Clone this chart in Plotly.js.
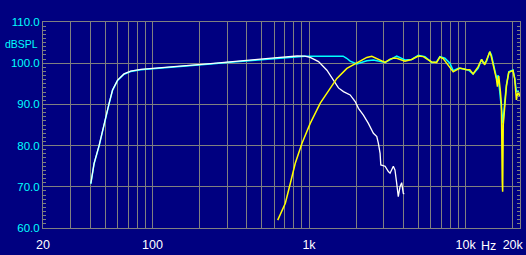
<!DOCTYPE html>
<html>
<head>
<meta charset="utf-8">
<script src="https://cdn.plot.ly/plotly-3.0.1.min.js"></script>
<style>html,body{margin:0;padding:0;background:#000080;}#chart{width:526px;height:255px;}</style>
</head>
<body>
<div id="chart"></div>
<script>
// Woofer response (white)
const wooferFreq = [40.4,42.4,45.7,49.1,52.9,55.6,59.9,65.8,72.6,84.2,107.6,130,150,235,300,468,600,840,940,1018,1150,1301,1400,1542,1660,1832,1972,2069,2226,2394,2578,2710,2774,2845,2874,3060,3213,3294,3456,3540,3632,3717,3812,3908,4000,4060];
const wooferDb   = [70.8,75.7,80.1,85.4,90.3,93.5,95.9,97.4,98.1,98.5,98.9,99.1,99.3,99.9,100.3,100.9,101.3,101.75,101.7,101.4,100.4,98.3,96.3,94.0,93.1,92.3,90.7,89.05,87.4,85.4,83.0,82.2,80.55,78.1,75.3,75.0,73.7,73.3,75.0,74.1,70.85,67.6,70.0,71.0,68.4,68.3];

// Tweeter response (yellow)
const tweeterFreq = [631,706,760,817,902,1018,1180,1366,1507,1746,2020,2340,2518,2710,3060,3294,3456,3632,4102,4528,4988,5368,5780,6070,6532,6854,7194,7740,8336,9190,10140,10640,11170,12020,12640,13260,13930,14280,14620,15200,15740,15980,16290,16700,16940,17150,17250,17400,17780,18240,18880,20080,20600,21120,21620,22180];
const tweeterDb   = [61.9,66.0,70.85,75.7,80.55,85.4,90.3,93.9,96.3,98.75,100.1,101.4,101.7,101.2,100.2,101.0,101.2,101.2,100.5,100.9,101.75,101.6,100.8,100.3,100.2,101.5,101.1,99.6,97.9,98.8,98.4,98.4,97.4,99.1,100.9,99.6,101.9,102.8,101.5,99.0,96.2,94.3,96.9,93.0,89.9,71.2,68.8,85.0,90.4,94.5,97.8,98.2,96.2,91.1,93.1,92.0];

// Summed response (cyan)
const sumFreq = [40.4,42.4,45.7,49.1,52.9,55.6,59.9,65.8,72.6,84.2,107.6,130,150,235,300,468,600,840,940,1200,1500,1652,1740,1832,2020,2226,2340,2578,3060,3632,4102,4528,4988,5500,6070,6532,6854,7378,7940,8336,8970,9892,10540,11170,12020,12640,13060,13600,14280,14620,14980,15520,15880,16120,16520,16940,17340,17780,18240,18880,20080,20600,21120,21620,22180];
const sumDb   = [70.7,75.6,80.0,85.3,90.2,93.4,95.8,97.3,98.0,98.4,98.7,99.0,99.2,99.8,100.2,100.8,101.2,101.7,101.7,101.7,101.7,101.7,101.2,100.5,99.8,100.4,100.6,100.8,100.2,101.75,100.8,100.9,101.9,101.6,100.2,100.3,101.6,101.2,100.0,98.2,98.75,98.6,98.2,97.4,98.75,100.9,100.0,100.4,102.8,102.0,100.0,97.1,95.9,97.1,93.5,89.9,85.4,90.6,94.7,97.9,98.35,96.3,93.1,93.25,92.0];

// Axis ticks
const xGridVals = [20,30,40,50,60,70,80,90,100,200,300,400,500,600,700,800,900,1000,2000,3000,4000,5000,6000,7000,8000,9000,10000,20000];
const xLabelMap = {20:"20",100:"100",1000:"1k",10000:"10k",20000:"20k"};
const yTickVals = [60,70,80,90,100,110];
const yTickText = ["60.0","70.0","80.0","90.0","100.0","110.0"];

const grid = "#808080";
const bg = "#000080";
const fontFam = "Liberation Sans, Arial, sans-serif";

const traces = [
  {x: sumFreq, y: sumDb, mode: "lines", line: {color: "#00ffff", width: 1.5}, hoverinfo: "skip"},
  {x: wooferFreq, y: wooferDb, mode: "lines", line: {color: "#ffffff", width: 1.3}, hoverinfo: "skip"},
  {x: tweeterFreq, y: tweeterDb, mode: "lines", line: {color: "#ffff00", width: 1.5}, hoverinfo: "skip"}
];

const layout = {
  width: 526, height: 255,
  margin: {l: 43, r: 6, t: 22, b: 27, pad: 0},
  paper_bgcolor: bg, plot_bgcolor: bg,
  showlegend: false,
  font: {family: fontFam, size: 12, color: "#ffffff"},
  xaxis: {
    type: "log",
    range: [Math.log10(20), 4.3476],
    tickmode: "array",
    tickvals: xGridVals,
    ticktext: xGridVals.map(v => xLabelMap[v] || ""),
    showgrid: true, gridcolor: grid, gridwidth: 1,
    showline: true, linecolor: grid, linewidth: 1, mirror: true,
    ticks: "", zeroline: false,
    tickfont: {family: fontFam, size: 12.5, color: "#ffffff"},
    ticklabelstandoff: 5
  },
  yaxis: {
    range: [60, 110],
    tickmode: "array",
    tickvals: yTickVals,
    ticktext: yTickText,
    showgrid: true, gridcolor: grid, gridwidth: 1,
    showline: true, linecolor: grid, linewidth: 1, mirror: "allticks",
    ticks: "inside", ticklen: 3, tickcolor: grid,
    minor: {dtick: 1, ticks: "inside", ticklen: 3, tickcolor: grid, showgrid: false},
    zeroline: false,
    tickfont: {family: fontFam, size: 11.5, color: "#00ffff"}
  },
  annotations: [
    {xref: "paper", yref: "y", x: 0, y: 104.6, xanchor: "right", yanchor: "middle", xshift: -3,
     text: "dBSPL", showarrow: false, font: {family: fontFam, size: 10.5, color: "#00ffff"}},
    {xref: "paper", yref: "paper", x: 0.935, y: 0, xanchor: "center", yanchor: "middle", yshift: -18,
     text: "Hz", showarrow: false, font: {family: fontFam, size: 12.5, color: "#ffffff"}}
  ]
};

Plotly.newPlot("chart", traces, layout, {staticPlot: true, displayModeBar: false});
</script>
</body>
</html>
